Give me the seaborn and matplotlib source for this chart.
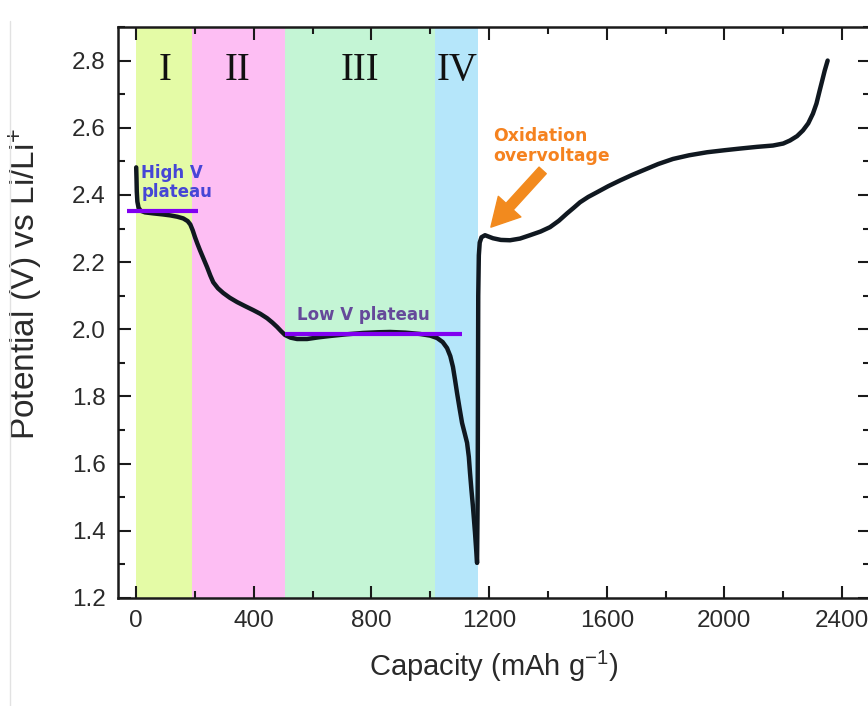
import numpy as np
import pandas as pd
import matplotlib
matplotlib.use("Agg")
import matplotlib.pyplot as plt
from matplotlib.lines import Line2D
from matplotlib.ticker import MultipleLocator
import seaborn as sns

# discharge curve
dis_cap = [0, 1, 2, 4, 8, 15, 30, 58, 90, 116, 140, 160, 175, 184, 192, 200, 208, 217, 229,
           241, 252, 262, 278, 296, 318, 343, 370, 398, 422, 445, 463, 479, 493, 506, 525,
           547, 581, 620, 659, 715, 771, 820, 863, 915, 965, 1000, 1023, 1042, 1057, 1068,
           1077, 1084, 1091, 1100, 1108, 1117, 1125, 1131, 1135, 1140, 1145, 1152, 1159]
dis_v = [2.482, 2.45, 2.41, 2.38, 2.362, 2.353, 2.348, 2.345, 2.342, 2.339, 2.335, 2.330,
         2.322, 2.312, 2.295, 2.274, 2.255, 2.235, 2.210, 2.185, 2.160, 2.140, 2.122, 2.108,
         2.094, 2.081, 2.069, 2.057, 2.046, 2.033, 2.020, 2.007, 1.994, 1.983, 1.975, 1.971,
         1.971, 1.976, 1.980, 1.985, 1.989, 1.991, 1.992, 1.990, 1.986, 1.981, 1.974, 1.962,
         1.944, 1.920, 1.888, 1.850, 1.810, 1.762, 1.721, 1.690, 1.662, 1.620, 1.573, 1.520,
         1.472, 1.394, 1.305]

# charge curve
chg_cap = [1159, 1161, 1162, 1163, 1165, 1168, 1174, 1186, 1198, 1213, 1240, 1271, 1305,
           1339, 1375, 1407, 1437, 1465, 1488, 1509, 1537, 1567, 1605, 1645, 1685, 1723,
           1775, 1825, 1880, 1941, 2000, 2053, 2110, 2165, 2200, 2223, 2247, 2267, 2285,
           2301, 2313, 2324, 2333, 2341, 2351]
chg_v = [1.305, 1.5, 1.8, 2.1, 2.22, 2.258, 2.274, 2.280, 2.276, 2.271, 2.266, 2.265, 2.270,
         2.280, 2.291, 2.304, 2.323, 2.345, 2.362, 2.378, 2.394, 2.408, 2.426, 2.443, 2.459,
         2.473, 2.492, 2.507, 2.518, 2.527, 2.533, 2.538, 2.543, 2.547, 2.553, 2.562, 2.575,
         2.592, 2.613, 2.642, 2.672, 2.711, 2.742, 2.770, 2.800]

# shaded regions
region_labels = ["I", "II", "III", "IV"]
region_edges = [0, 190, 505, 1015, 1163]
region_colors = ["#e4fba6", "#fdbef3", "#c4f5d5", "#b5e6fa"]
region_label_x = [99, 343, 761, 1091]

high_plateau = ([-31, 211], 2.351)
low_plateau = ([506, 1108], 1.986)

sns.set_style("ticks")
plt.rcParams['font.family'] = ['Liberation Sans', 'DejaVu Sans']
plt.rcParams['mathtext.fontset'] = 'custom'
plt.rcParams['mathtext.rm'] = 'Liberation Sans'
plt.rcParams['mathtext.it'] = 'Liberation Sans'

fig = plt.figure(figsize=(8.68, 7.06), dpi=100)
ax = fig.add_axes([0.1359, 0.1530, 0.8664, 0.8088])

for i in range(len(region_labels)):
    ax.axvspan(region_edges[i], region_edges[i + 1], color=region_colors[i], lw=0, zorder=0)
    ax.text(region_label_x[i], 2.77, region_labels[i], family='Liberation Serif',
            fontsize=28, ha='center', va='center', color='#111111')

dis = pd.DataFrame({"cap": dis_cap, "v": dis_v})
chg = pd.DataFrame({"cap": chg_cap, "v": chg_v})
for df in (dis, chg):
    sns.lineplot(data=df, x="cap", y="v", sort=False, estimator=None, color="#101820",
                 lw=3.2, ax=ax, zorder=3, solid_joinstyle='round', solid_capstyle='round')

ax.plot(high_plateau[0], [high_plateau[1]] * 2, color="#8000f0", lw=3, zorder=4, solid_capstyle='butt')
ax.plot(low_plateau[0], [low_plateau[1]] * 2, color="#8000f0", lw=3, zorder=4, solid_capstyle='butt')

ax.text(17, 2.492, "High V\nplateau", color="#4646d6", fontsize=12, fontweight='bold',
        family='DejaVu Sans', va='top', ha='left', linespacing=1.05, zorder=5)
ax.text(547, 2.027, "Low V plateau", color="#65499a", fontsize=12, fontweight='bold',
        family='DejaVu Sans', va='baseline', ha='left', zorder=5)
ax.text(1213, 2.603, "Oxidation\novervoltage", color="#f5821f", fontsize=12.4, fontweight='bold',
        family='DejaVu Sans', va='top', ha='left', linespacing=1.15, zorder=5)
ax.annotate("", xy=(1206, 2.304), xytext=(1382, 2.473),
            arrowprops=dict(arrowstyle="simple,head_width=1.1,head_length=1.0,tail_width=0.35",
                            color="#f28a1e", mutation_scale=20, shrinkA=0, shrinkB=0), zorder=5)

ax.set_xlim(-62, 2495)
ax.set_ylim(1.2, 2.9)
ax.xaxis.set_major_locator(MultipleLocator(400))
ax.xaxis.set_minor_locator(MultipleLocator(200))
ax.yaxis.set_major_locator(MultipleLocator(0.2))
ax.yaxis.set_minor_locator(MultipleLocator(0.1))
ax.yaxis.set_major_formatter(matplotlib.ticker.FormatStrFormatter('%.1f'))
ax.tick_params(which='both', direction='in', top=True, right=True, width=1.5, color='#1a1a1a')
ax.tick_params(which='major', length=9, labelsize=17.5, labelcolor='#2a2a2a', pad=9)
ax.tick_params(which='minor', length=5)
for sp in ax.spines.values():
    sp.set_linewidth(1.8)
    sp.set_color('#1a1a1a')

ax.set_xlabel("Capacity (mAh g$^{-1}$)", fontsize=21, color='#2a2a2a', labelpad=12)
ax.set_ylabel("Potential (V) vs Li/Li$^{+}$", fontsize=24, color='#2a2a2a')
ax.yaxis.set_label_coords(-0.097, 0.55)

fig.add_artist(Line2D([0.012, 0.012], [0.0, 0.97], color='#e2e2e2', lw=1))

fig.savefig("out.png", dpi=100)
